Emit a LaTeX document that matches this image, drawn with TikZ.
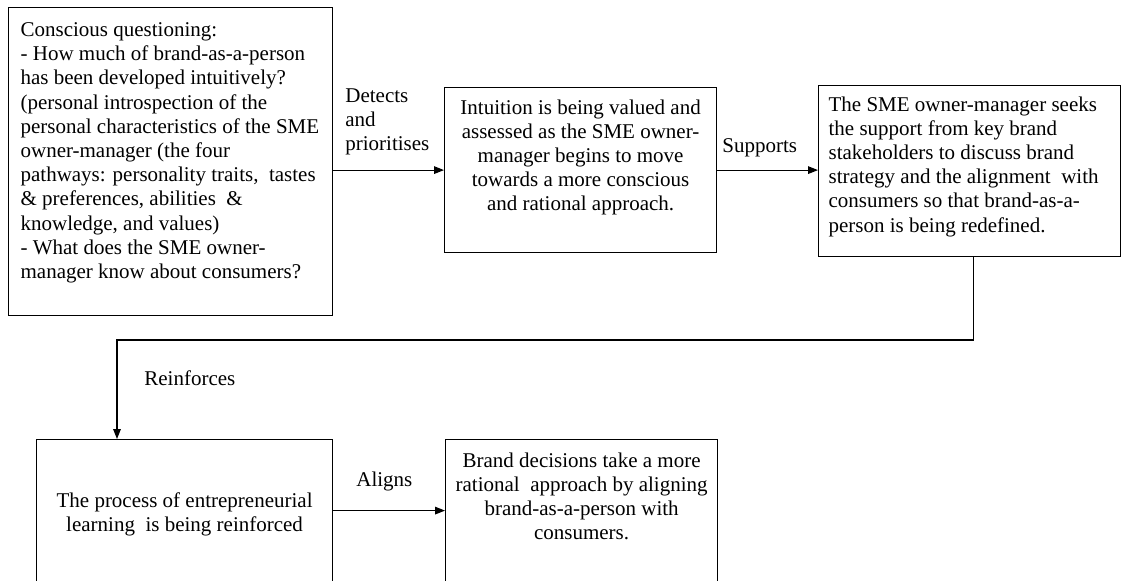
\documentclass[tikz,border=0pt]{standalone}
\usepackage{fontspec}
\setmainfont{Liberation Serif}
\usetikzlibrary{arrows.meta}

\newcommand{\stagefont}{\fontsize{10.5}{12.1}\selectfont}
\newcommand{\stagetext}[4]{\parbox[t][#2][t]{#1}{\vspace*{#3}#4}}

\begin{document}
\begin{tikzpicture}[x=0.5pt,y=-0.5pt,
    stage/.style={draw, line width=0.6pt, anchor=north west, inner xsep=5pt, inner ysep=0pt, font=\stagefont},
    lbl/.style={inner sep=0pt, font=\stagefont},
    link/.style={line width=0.6pt, -{Triangle[length=5pt,width=3.8pt]}}]
  \useasboundingbox (0,0) rectangle (1121,580);

  \coordinate (S1) at (8,7);
  \coordinate (S2) at (444,87);
  \coordinate (S3) at (818,85);
  \coordinate (S4) at (36,439);
  \coordinate (S5) at (445,439);
  \coordinate (R1) at (117,340);

  \node[stage, inner xsep=6pt] (b1) at (S1) {\stagetext{150pt}{154pt}{7.5pt}{\raggedright
    Conscious questioning:\\
    - How much of brand-as-a-person\\
    has been developed intuitively?\\
    (personal introspection of the\\
    personal characteristics of the SME\\
    owner-manager (the four\\
    pathways: personality traits,\ \ tastes\\
    \& preferences, abilities \ \&\\
    knowledge, and values)\\
    - What does the SME owner-\\
    manager\ know about consumers?}};
  \node[stage] (b2) at (S2) {\stagetext{126pt}{82.5pt}{6pt}{\centering
    Intuition\ is being valued\ and\\
    assessed as the SME owner-\\
    manager begins to move\\
    towards a more conscious\\
    and rational approach.}};
  \node[stage] (b3) at (S3) {\stagetext{141pt}{85.5pt}{5.5pt}{\raggedright
    The SME owner-manager\ seeks\\
    the support from key brand\\
    stakeholders to discuss brand\\
    strategy and the alignment\ \ with\\
    consumers so that brand-as-a-\\
    person is\ being\ redefined.}};
  \node[stage] (b4) at (S4) {\stagetext{138pt}{71pt}{26.5pt}{\centering
    The process of entrepreneurial\\
    learning\ \ is being reinforced}};
  \node[stage] (b5) at (S5) {\stagetext{126pt}{71pt}{6.5pt}{\centering
    Brand decisions take a more\\
    rational\ \ approach by aligning\\
    brand-as-a-person with\\
    consumers.}};

  \node[lbl, anchor=north west, align=left] (l1) at (345,88) {Detects\\and\\prioritises};
  \node[lbl, anchor=base west] (l2) at (722,152) {Supports};
  \node[lbl, anchor=base west] (l3) at (144,385) {Reinforces};
  \node[lbl, anchor=base west] (l4) at (356,486) {Aligns};

  \draw[link] (b1.east |- b2.west) -- (b2.west);
  \draw[link] (b2.east) -- (b3.west |- b2.east);
  \draw[link] ([xshift=2pt]b3.south) |- (R1) -- (R1 |- b4.north);
  \draw[link] (b4.east) -- (b5.west);
\end{tikzpicture}
\end{document}
